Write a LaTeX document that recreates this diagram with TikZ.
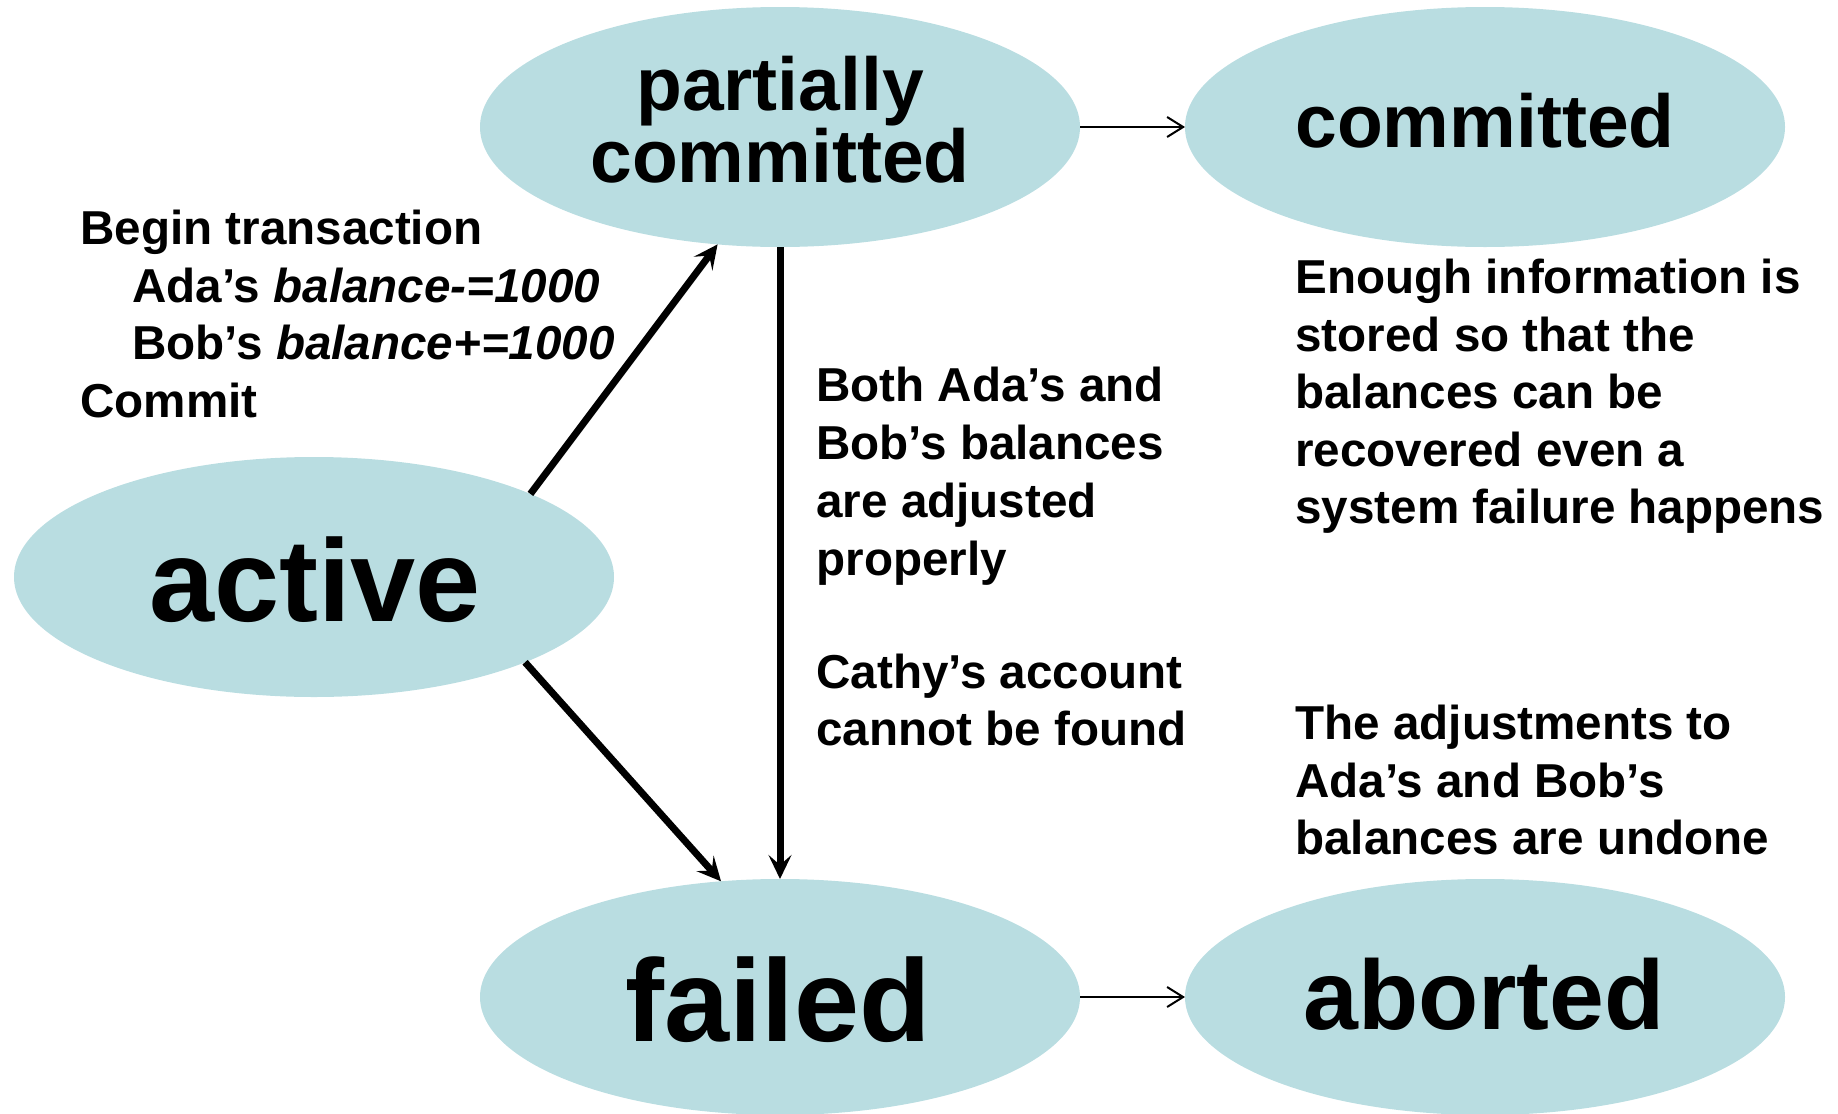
\documentclass[tikz,border=0pt]{standalone}
\usepackage{fontspec}
\setmainfont{Liberation Sans}
\usetikzlibrary{shapes.geometric,arrows.meta}
\definecolor{stfill}{RGB}{185,221,225}
\begin{document}
\begin{tikzpicture}[x=0.5pt,y=-0.5pt,
  state/.style={ellipse,fill=stfill,draw=none,minimum width=300pt,minimum height=120pt,inner sep=0pt,outer sep=0pt},
  bigtxt/.style={inner sep=0pt,anchor=base,font=\bfseries},
  note/.style={inner sep=0pt,anchor=north west,align=left,font=\bfseries\fontsize{23.8}{28.7}\selectfont},
  thick arrow/.style={line width=3.5pt,-{Stealth[length=12pt,width=11.5pt,inset=5pt]}},
  thin arrow/.style={line width=1pt,-{Straight Barb[length=8pt,width=10pt]}}]
\useasboundingbox (0,0) rectangle (1838,1114);
\node[state] (act) at (314,577) {};
\node[state] (pc) at (780,127) {};
\node[state] (com) at (1485,127) {};
\node[state,minimum height=118pt] (fail) at (780,997) {};
\node[state,minimum height=118pt] (abo) at (1485,997) {};
\node[bigtxt,font=\bfseries\fontsize{58.5}{60}\selectfont] (actt) at (315,621) {active};
\node[inner sep=0pt,anchor=north,align=center,font=\bfseries\fontsize{37.5}{32}\selectfont] (pct) at (780,56) {partially\\committed};
\node[bigtxt,font=\bfseries\fontsize{37.5}{40}\selectfont] (comt) at (1485,147) {committed};
\node[bigtxt,font=\bfseries\fontsize{58.5}{60}\selectfont] (failt) at (778,1041) {failed};
\node[bigtxt,font=\bfseries\fontsize{49.3}{50}\selectfont] (abot) at (1484,1029) {aborted};
\node[note] (n1) at (80,210) {Begin transaction\\
  \hspace*{26pt}Ada’s \textit{balance-=1000}\\
  \hspace*{26pt}Bob’s \textit{balance+=1000}\\
  Commit};
\node[note,font=\bfseries\fontsize{23.8}{28.9}\selectfont] (n2) at (816,367) {Both Ada’s and\\Bob’s balances\\are adjusted\\properly\\[27.5pt]Cathy’s account\\cannot be found};
\node[note] (n3) at (1295,259) {Enough information is\\stored so that the\\balances can be\\recovered even a\\system failure happens};
\node[note] (n4) at (1295,705) {The adjustments to\\Ada’s and Bob’s\\balances are undone};
\draw[thick arrow] (act.21.8) -- (pc.242.5);
\draw[thick arrow] (act.-22) -- (fail.117.1);
\draw[thick arrow] (pc.south) -- (fail.north);
\draw[thin arrow] (pc.east) -- (com.west);
\draw[thin arrow] (fail.east) -- (abo.west);
\end{tikzpicture}
\end{document}
